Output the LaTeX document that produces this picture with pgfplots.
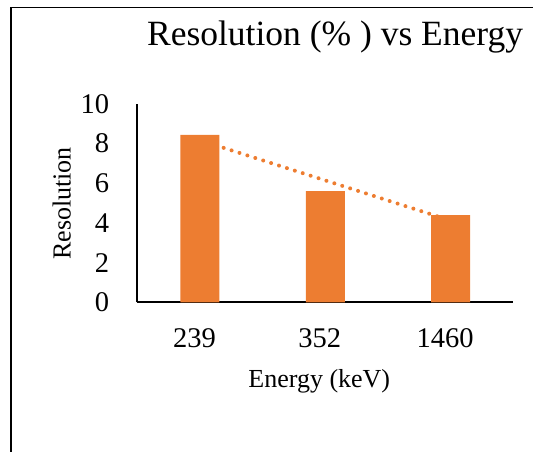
\documentclass[border=0pt]{standalone}
\usepackage{fontspec}
\setmainfont{Liberation Serif}
\usepackage{pgfplots}
\usepackage{pgfplotstable}
\pgfplotsset{compat=1.18}

\definecolor{barorange}{RGB}{237,125,49}

% Energy resolution per gamma line (category index, resolution in %)
\pgfplotstableread{
x res
1 8.44
2 5.61
3 4.39
}\restable

\begin{document}
\begin{tikzpicture}[x=1pt,y=1pt]
  \useasboundingbox (0,0) rectangle (533,452);
  \clip (0,0) rectangle (533,452);
  % chart area border
  \draw[line width=1.8pt] (11,-5) -- (11,444.5) -- (540,444.5);
  \begin{axis}[
    at={(137.3pt,149.7pt)}, anchor=south west,
    scale only axis,
    width=376pt, height=198.3pt,
    xmin=0.5, xmax=3.5,
    ymin=0, ymax=10,
    axis x line=bottom, axis y line=left,
    axis line style={-, line width=1.6pt, black},
    major tick length=0pt,
    xtick={1,2,3},
    xticklabels={239,352,1460},
    ytick={0,2,4,6,8,10},
    /pgf/number format/assume math mode=true,
    tick label style={font=\fontsize{28.5}{33}\selectfont, inner sep=0pt},
    yticklabel style={anchor=east, xshift=-28pt},
    xticklabel style={anchor=north, yshift=-26pt, xshift=-5.5pt},
    xlabel={Energy (keV)},
    ylabel={Resolution},
    label style={font=\fontsize{26}{30}\selectfont, inner sep=0pt},
    xlabel style={at={(axis description cs:0.484,-0.428)}, anchor=base},
    ylabel style={at={(axis description cs:-0.177,0.498)}, anchor=base, rotate=0},
    title={Resolution (\% ) vs Energy},
    title style={font=\fontsize{35.5}{40}\selectfont, inner sep=0pt, yshift=-6pt,
      at={(axis description cs:0.526,1.2975)}, anchor=base},
    clip=false,
  ]
    \addplot[ybar, bar width=39pt, fill=barorange, draw=none]
      table[x=x, y=res] {\restable};
    % linear trendline fitted to the three points
    \addplot[barorange, line width=4pt, line cap=round,
      dash pattern=on 0pt off 8.3pt]
      table[x=x, y={create col/linear regression={y=res}}] {\restable};
  \end{axis}
\end{tikzpicture}
\end{document}
